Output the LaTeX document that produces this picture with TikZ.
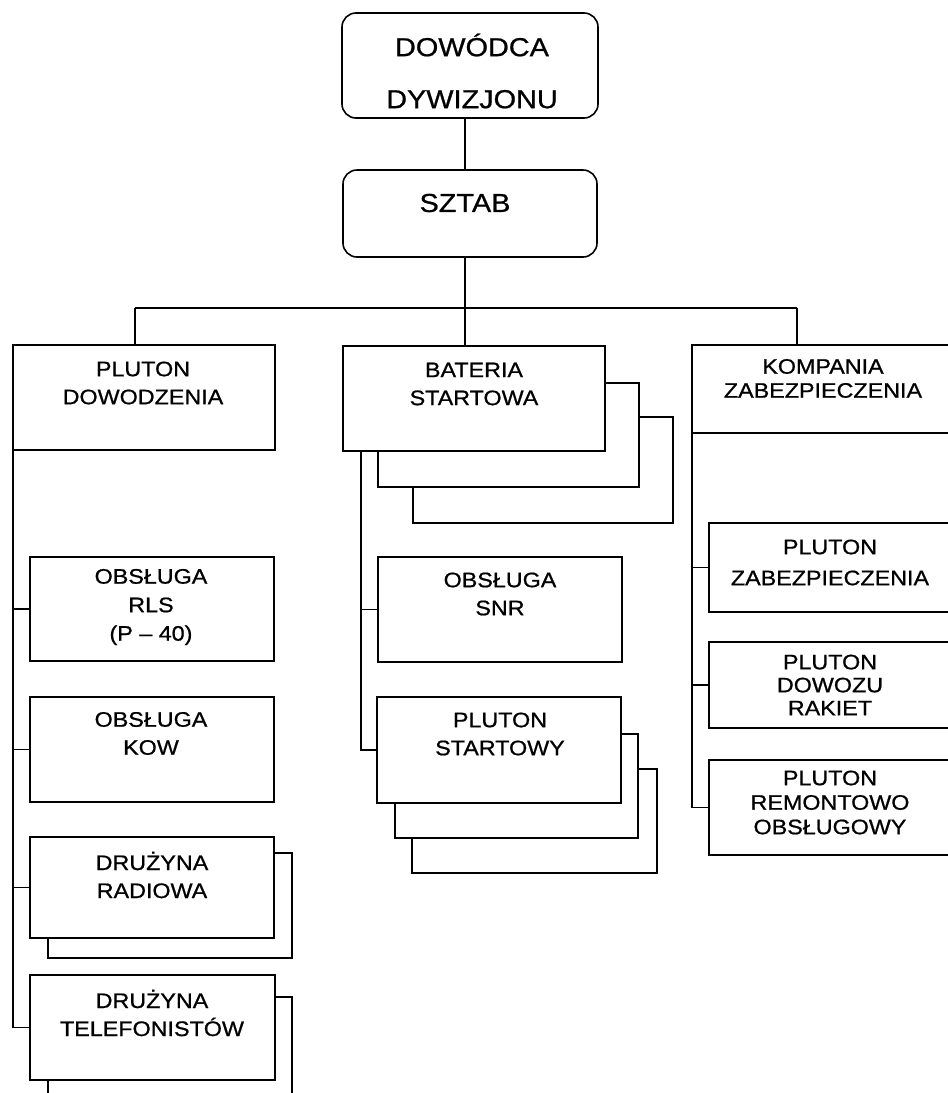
\documentclass[tikz,border=0pt]{standalone}
\usepackage{fontspec}
\setmainfont{Liberation Sans}
\newfontfamily\unitfont[FakeStretch=1.11, FakeBold=0.8]{Liberation Sans}
\tikzset{
  unit/.style={draw=black, line width=1.6pt, fill=white, inner sep=0pt, outer sep=0pt},
  command/.style={unit, rounded corners=14pt},
  headtext/.style={font=\unitfont\fontsize{26}{52}\selectfont, align=center, inner sep=0pt},
  celltext/.style={font=\unitfont\fontsize{21}{28}\selectfont, align=center, inner sep=0pt},
  link/.style={draw=black, line width=1.6pt},
}
\begin{document}
\begin{tikzpicture}[x=1pt, y=-1pt]
\useasboundingbox (0,0) rectangle (948,1093);
\clip (0,0) rectangle (948,1093);

% command and staff
\node[command, minimum width=256pt, minimum height=105pt] (dd) at (470,65.5) {};
\node[headtext] (ddt) at (472,71) {DOWÓDCA\\DYWIZJONU};
\node[command, minimum width=254pt, minimum height=87pt] (sz) at (470,213.5) {};
\node[headtext] (szt) at (465,203) {SZTAB};

% main subunits
\node[unit, minimum width=262pt, minimum height=105pt] (pd) at (144,397.5) {};
\node[celltext] (pdt) at (143,383) {PLUTON\\DOWODZENIA};
\node[unit, minimum width=262pt, minimum height=105pt] (bs) at (474,398.5) {};
\node[celltext] (bst) at (474,384) {BATERIA\\STARTOWA};
\node[unit, minimum width=268pt, minimum height=88pt] (kz) at (826,389) {};
\node[celltext, font=\unitfont\fontsize{21}{24}\selectfont] (kzt) at (823,378.5) {KOMPANIA\\ZABEZPIECZENIA};

% bus from the staff
\coordinate (bus) at (465,308);
\coordinate (busL) at (135,308);
\coordinate (busR) at (797,308);
\draw[link] (dd.south -| bus) -- (sz.north -| bus);
\draw[link] (sz.south -| bus) -- (bus);
\draw[link] (busL) -- (busR);
\draw[link] (busL) -- (busL |- pd.north);
\draw[link] (bus) -- (bus |- bs.north);
\draw[link] (busR) -- (busR |- kz.north);

% command platoon
\node[unit, minimum width=244pt, minimum height=104pt] (rls) at (152,609) {};
\node[celltext, font=\unitfont\fontsize{21}{28.5}\selectfont] (rlst) at (151,607) {OBSŁUGA\\RLS\\(P – 40)};
\node[unit, minimum width=244pt, minimum height=105pt] (kow) at (152,749.5) {};
\node[celltext] (kowt) at (151,733.5) {OBSŁUGA\\KOW};
\draw[link] (274,853) -- (292,853) -- (292,958) -- (48,958) -- (48,938);
\node[unit, minimum width=244pt, minimum height=101pt] (rad) at (152,887.5) {};
\node[celltext] (radt) at (152,875) {DRUŻYNA\\RADIOWA};
\draw[link] (275,997) -- (292,997) -- (292,1100);
\draw[link] (48,1080) -- (48,1100);
\node[unit, minimum width=245pt, minimum height=105pt] (tel) at (152.5,1027.5) {};
\node[celltext] (telt) at (152,1013) {DRUŻYNA\\TELEFONISTÓW};
\draw[link] (pd.south west) |- (rls.west);
\draw[link] (pd.south west) |- (kow.west);
\draw[link] (pd.south west) |- (rad.west);
\draw[link] (pd.south west) |- (tel.west);

% launch battery
\draw[link] (604,383) -- (639,383) -- (639,487) -- (378,487) -- (378,451);
\draw[link] (639,417) -- (673,417) -- (673,523) -- (413,523) -- (413,487);
\node[unit, minimum width=244pt, minimum height=105pt] (snr) at (500,609.5) {};
\node[celltext] (snrt) at (500,594) {OBSŁUGA\\SNR};
\draw[link] (621,734) -- (638,734) -- (638,838) -- (395,838) -- (395,803);
\draw[link] (638,769) -- (657,769) -- (657,873) -- (412,873) -- (412,838);
\node[unit, minimum width=244pt, minimum height=106pt] (ps) at (499,750) {};
\node[celltext] (pst) at (500,734) {PLUTON\\STARTOWY};
\draw[link] ([xshift=18pt]bs.south west) |- (snr.west);
\draw[link] ([xshift=18pt]bs.south west) |- (ps.west);

% security company
\node[unit, minimum width=251pt, minimum height=89pt] (pz) at (834.5,567.5) {};
\node[celltext, font=\unitfont\fontsize{21}{31}\selectfont] (pzt) at (830,562.5) {PLUTON\\ZABEZPIECZENIA};
\node[unit, minimum width=251pt, minimum height=86pt] (pdr) at (834.5,685) {};
\node[celltext, font=\unitfont\fontsize{21}{23}\selectfont] (pdrt) at (830,685) {PLUTON\\DOWOZU\\RAKIET};
\node[unit, minimum width=251pt, minimum height=95pt] (prem) at (834.5,807.5) {};
\node[celltext, font=\unitfont\fontsize{21}{24.5}\selectfont] (premt) at (830,802.5) {PLUTON\\REMONTOWO\\OBSŁUGOWY};
\draw[link] (kz.south west) |- (pz.west);
\draw[link] (kz.south west) |- (pdr.west);
\draw[link] (kz.south west) |- (prem.west);
\end{tikzpicture}
\end{document}
